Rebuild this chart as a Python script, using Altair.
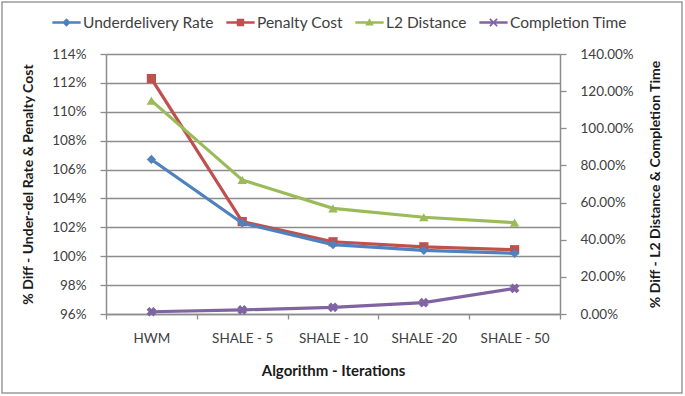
import altair as alt
import pandas as pd

# Algorithm / iteration settings on the x axis
categories = ["HWM", "SHALE - 5", "SHALE - 10", "SHALE -20", "SHALE - 50"]

# Left-axis series (% of optimum)
underdelivery_rate = [1.067, 1.023, 1.008, 1.004, 1.002]
penalty_cost = [1.123, 1.024, 1.010, 1.0065, 1.0045]

# Right-axis series (% difference)
l2_distance = [1.149, 0.722, 0.569, 0.521, 0.492]
completion_time = [0.012, 0.022, 0.036, 0.061, 0.138]

series_names = ["Underdelivery Rate", "Penalty Cost", "L2 Distance", "Completion Time"]
series_colors = ["#4F81BD", "#C0504D", "#9BBB59", "#8064A2"]

rows = []
for name, vals, side in [
    ("Underdelivery Rate", underdelivery_rate, "left"),
    ("Penalty Cost", penalty_cost, "left"),
    ("L2 Distance", l2_distance, "right"),
    ("Completion Time", completion_time, "right"),
]:
    for cat, v in zip(categories, vals):
        rows.append({"category": cat, "series": name, "value": v, "side": side})
df = pd.DataFrame(rows)

FONT = "Lato"
GRID = "#8c8c8c"
LABEL = "#404040"
TITLE = "#1a1a1a"

x_enc = alt.X(
    "category:N",
    sort=categories,
    scale=alt.Scale(type="band", paddingInner=0, paddingOuter=0),
    axis=alt.Axis(
        title="Algorithm - Iterations",
        labelAngle=0,
        tickBand="extent",
        tickSize=5,
        tickColor=GRID,
        tickWidth=1.3,
        domainColor=GRID,
        domainWidth=1.5,
        labelPadding=12,
        labelFont=FONT,
        labelFontSize=13.5,
        labelColor=LABEL,
        titleFont=FONT,
        titleFontSize=15,
        titleFontWeight="bold",
        titleColor=TITLE,
        titlePadding=19,
        grid=False,
    ),
)

left_axis = alt.Axis(
    title="% Diff - Under-del Rate & Penalty Cost",
    values=[0.96, 0.98, 1.00, 1.02, 1.04, 1.06, 1.08, 1.10, 1.12, 1.14],
    format=".0%",
    grid=True,
    gridColor=GRID,
    gridWidth=1.4,
    domainColor=GRID,
    domainWidth=1.5,
    tickColor=GRID,
    tickWidth=1.3,
    tickSize=6,
    labelPadding=14,
    labelFont=FONT,
    labelFontSize=13.5,
    labelColor=LABEL,
    titleFont=FONT,
    titleFontSize=14,
    titleFontWeight="bold",
    titleColor=TITLE,
    titlePadding=16,
)

right_axis = alt.Axis(
    title="% Diff - L2 Distance & Completion Time",
    orient="right",
    values=[0.0, 0.2, 0.4, 0.6, 0.8, 1.0, 1.2, 1.4],
    format=".2%",
    grid=False,
    domainColor=GRID,
    domainWidth=1.5,
    tickColor=GRID,
    tickWidth=1.3,
    tickSize=6,
    labelPadding=14,
    labelFont=FONT,
    labelFontSize=13.5,
    labelColor=LABEL,
    titleFont=FONT,
    titleFontSize=14,
    titleFontWeight="bold",
    titleColor=TITLE,
    titlePadding=29,
    titleAngle=-90,
)

y_left = alt.Y("value:Q", scale=alt.Scale(domain=[0.96, 1.14], nice=False, zero=False), axis=left_axis)
y_right = alt.Y("value:Q", scale=alt.Scale(domain=[0.0, 1.4], nice=False), axis=right_axis)

marker_styles = {
    "Underdelivery Rate": dict(shape="diamond", size=85, filled=True),
    "Penalty Cost": dict(shape="square", size=85, filled=True),
    "L2 Distance": dict(shape="triangle-up", size=90, filled=True),
    "Completion Time": dict(shape="cross", size=95, filled=True, angle=45),
}


def series_layers(name, color, y_enc):
    base = alt.Chart(df).transform_filter(alt.datum.series == name)
    line = base.mark_line(color=color, strokeWidth=3.2).encode(x=x_enc, y=y_enc)
    pts = base.mark_point(color=color, opacity=1, **marker_styles[name]).encode(x=x_enc, y=y_enc)
    return [line, pts]


left = alt.layer(
    *series_layers("Penalty Cost", series_colors[1], y_left),
    *series_layers("Underdelivery Rate", series_colors[0], y_left),
)
right = alt.layer(
    *series_layers("L2 Distance", series_colors[2], y_right),
    *series_layers("Completion Time", series_colors[3], y_right),
)

# Legend glyphs: a short line with the series marker on it
legend_shapes = [
    "M-1,-0.09H1V0.09H-1Z M0,-0.3L0.3,0L0,0.3L-0.3,0Z",
    "M-1,-0.09H1V0.09H-1Z M-0.26,-0.26H0.26V0.26H-0.26Z",
    "M-1,-0.09H1V0.09H-1Z M0,-0.3L0.3,0.22H-0.3Z",
    "M-1,-0.09H1V0.09H-1Z "
    "M-0.3,-0.22L-0.22,-0.3L0,-0.08L0.22,-0.3L0.3,-0.22L0.08,0L0.3,0.22L0.22,0.3L0,0.08L-0.22,0.3L-0.3,0.22L-0.08,0Z",
]

legend_props = dict(
    title=None,
    orient="none",
    direction="horizontal",
    legendX=-54,
    legendY=-46,
    symbolSize=800,
    symbolStrokeWidth=0,
    labelFont=FONT,
    labelFontSize=15.5,
    labelColor=LABEL,
    labelOffset=2,
    columnPadding=12,
)

legend_layer = (
    alt.Chart(df)
    .transform_filter("false")
    .mark_point(filled=True, opacity=1, strokeWidth=0)
    .encode(
        x=alt.value(0),
        y=alt.value(0),
        color=alt.Color(
            "series:N",
            scale=alt.Scale(domain=series_names, range=series_colors),
            legend=alt.Legend(**legend_props),
        ),
        shape=alt.Shape(
            "series:N",
            scale=alt.Scale(domain=series_names, range=legend_shapes),
            legend=alt.Legend(**legend_props),
        ),
    )
)

# Outer chart frame
frame = (
    alt.Chart(pd.DataFrame({"f": [0]}))
    .mark_rect(fill=None, stroke="#9a9a9a", strokeWidth=1.5, clip=False)
    .encode(x=alt.value(-104), x2=alt.value(576), y=alt.value(-52), y2=alt.value(339))
)

chart = (
    alt.layer(left, right, legend_layer, frame)
    .resolve_scale(y="independent")
    .properties(
        width=454,
        height=260,
        autosize=alt.AutoSizeParams(type="none"),
        padding={"left": 106, "top": 54, "right": 125, "bottom": 82},
        background="white",
    )
    .configure_view(stroke=None)
)

chart.save("out.html", embed_options={"renderer": "svg", "actions": False})
